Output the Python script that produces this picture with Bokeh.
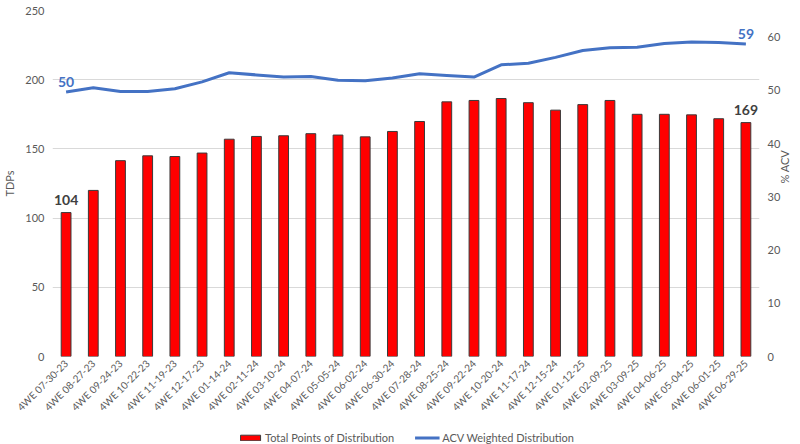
import math
from bokeh.plotting import figure
from bokeh.layouts import column
from bokeh.models import (Range1d, LinearAxis, FactorRange, FixedTicker, Legend,
                          LegendItem, ColumnDataSource)
from bokeh.core.properties import value
from bokeh.embed import file_html
from bokeh.resources import INLINE

periods = ["4WE 07-30-23", "4WE 08-27-23", "4WE 09-24-23", "4WE 10-22-23", "4WE 11-19-23",
           "4WE 12-17-23", "4WE 01-14-24", "4WE 02-11-24", "4WE 03-10-24", "4WE 04-07-24",
           "4WE 05-05-24", "4WE 06-02-24", "4WE 06-30-24", "4WE 07-28-24", "4WE 08-25-24",
           "4WE 09-22-24", "4WE 10-20-24", "4WE 11-17-24", "4WE 12-15-24", "4WE 01-12-25",
           "4WE 02-09-25", "4WE 03-09-25", "4WE 04-06-25", "4WE 05-04-25", "4WE 06-01-25",
           "4WE 06-29-25"]
tdps = [104, 120, 141.5, 145, 144.5, 147, 157, 159, 159.5, 161, 160, 158.7, 162.6, 169.8,
        184, 185, 186.4, 183.4, 178, 182, 185, 175, 175, 174.6, 171.8, 169]
acv = [49.7, 50.5, 49.8, 49.8, 50.3, 51.6, 53.3, 52.9, 52.5, 52.6, 51.9, 51.8, 52.3, 53.1,
       52.8, 52.5, 54.8, 55.1, 56.2, 57.5, 58.0, 58.1, 58.8, 59.1, 59.0, 58.7]
left_ticks = [0, 50, 100, 150, 200, 250]
right_ticks = [0, 10, 20, 30, 40, 50, 60]
series_names = ["Total Points of Distribution", "ACV Weighted Distribution"]

FONT = "Lato"
GRAY = "#595959"
BLUE = "#4472c4"
RED = "#ff0000"
EDGE = "#3a3a3a"

src = ColumnDataSource(dict(period=periods, tdp=tdps, acv=acv))

p = figure(width=800, height=420, x_range=FactorRange(*periods), y_range=Range1d(0, 250),
           output_backend="svg", toolbar_location=None,
           min_border_left=52, min_border_right=40, min_border_top=10, min_border_bottom=64)
p.extra_y_ranges = {"acv": Range1d(0, 65)}
p.outline_line_color = None

bars = p.vbar(x="period", top="tdp", width=0.36, fill_color=RED,
              line_color=EDGE, line_width=1, source=src)
line = p.line(x="period", y="acv", y_range_name="acv", line_color=BLUE, line_width=3, source=src)

# data labels (first and last)
p.text(x=[periods[0], periods[-1]], y=[acv[0], acv[-1]],
       text=[str(round(acv[0])), str(round(acv[-1]))], y_range_name="acv",
       text_align="center", text_baseline="bottom", y_offset=-5,
       text_color=BLUE, text_font=value(FONT), text_font_style="bold", text_font_size="14px")
p.text(x=[periods[0], periods[-1]], y=[tdps[0], tdps[-1]],
       text=[str(round(tdps[0])), str(round(tdps[-1]))],
       text_align="center", text_baseline="bottom", y_offset=-8,
       text_color="#404040", text_font=value(FONT), text_font_style="bold", text_font_size="14px")

p.xgrid.visible = False
p.ygrid.grid_line_color = "#d9d9d9"
p.ygrid.grid_line_width = 1

p.yaxis.ticker = FixedTicker(ticks=left_ticks)
p.yaxis.axis_label = "TDPs"

right = LinearAxis(y_range_name="acv", ticker=FixedTicker(ticks=right_ticks), axis_label="% ACV")
p.add_layout(right, "right")

for ax in [p.yaxis[0], right, p.xaxis[0]]:
    ax.axis_line_color = None
    ax.major_tick_line_color = None
    ax.minor_tick_line_color = None
    ax.major_tick_in = 0
    ax.major_tick_out = 0
    ax.minor_tick_in = 0
    ax.minor_tick_out = 0
    ax.major_label_text_color = GRAY
    ax.major_label_text_font = FONT
    ax.major_label_text_font_size = "11px"
    ax.axis_label_text_color = GRAY
    ax.axis_label_text_font = FONT
    ax.axis_label_text_font_size = "11px"
    ax.axis_label_text_font_style = "normal"

p.yaxis[0].major_label_standoff = 8
p.yaxis[0].axis_label_standoff = 6
right.major_label_standoff = 8
right.axis_label_standoff = 1
if hasattr(right, "axis_label_orientation"):
    right.axis_label_orientation = math.pi / 2
p.xaxis.major_label_orientation = math.pi / 4
p.xaxis.major_label_text_font_size = "10px"
p.xaxis.major_label_standoff = 5

# legend strip below the chart (its sample glyphs lie outside the visible range)
lg = figure(width=800, height=24, x_range=Range1d(0, 1), y_range=Range1d(0, 1),
            output_backend="svg", toolbar_location=None,
            min_border_left=0, min_border_right=0, min_border_top=0, min_border_bottom=0)
lg.axis.visible = False
lg.grid.visible = False
lg.outline_line_color = None
r1 = lg.vbar(x=[0.5], bottom=[-6], top=[-5], width=0.1, fill_color=RED,
             line_color=EDGE, line_width=1)
r2 = lg.line(x=[0.2, 0.8], y=[-5, -5], line_color=BLUE, line_width=3)
legend = Legend(items=[LegendItem(label=series_names[0], renderers=[r1]),
                       LegendItem(label=series_names[1], renderers=[r2])],
                orientation="horizontal", location="bottom_center",
                border_line_color=None, background_fill_alpha=0,
                label_text_font=FONT, label_text_font_size="11px", label_text_color=GRAY,
                glyph_width=25, glyph_height=7, padding=0, margin=0, spacing=20,
                label_standoff=3, label_height=12)
lg.add_layout(legend)

layout = column(p, lg, spacing=0)
open("out.html", "w").write(file_html(layout, INLINE))
